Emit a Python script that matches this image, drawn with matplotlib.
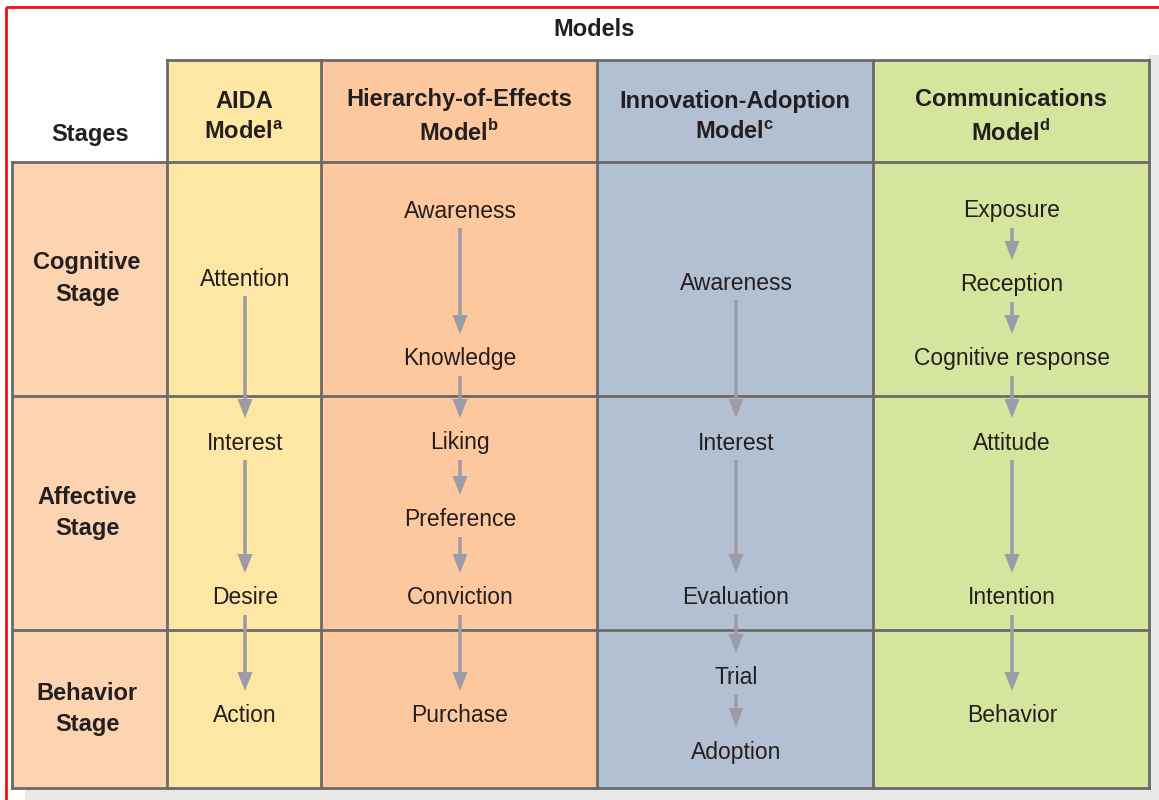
import matplotlib.pyplot as plt
from matplotlib.patches import Rectangle, FancyArrow

# table content
stages = ["Cognitive\nStage", "Affective\nStage", "Behavior\nStage"]
models = ["AIDA\nModel$^{\\mathrm{a}}$",
          "Hierarchy-of-Effects\nModel$^{\\mathrm{b}}$",
          "Innovation-Adoption\nModel$^{\\mathrm{c}}$",
          "Communications\nModel$^{\\mathrm{d}}$"]

aida = ["Attention", "Interest", "Desire", "Action"]
hierarchy = ["Awareness", "Knowledge", "Liking", "Preference", "Conviction", "Purchase"]
innovation = ["Awareness", "Interest", "Evaluation", "Trial", "Adoption"]
communications = ["Exposure", "Reception", "Cognitive response", "Attitude",
                  "Intention", "Behavior"]

# layout (pixels)
aida_y = [277, 441, 596, 714]
hierarchy_y = [209, 357, 441, 518, 596, 714]
innovation_y = [281, 441, 596, 676, 750]
communications_y = [209, 283, 357, 441, 596, 714]

col_edges = [12, 167, 321, 597, 873, 1149]
row_edges = [60, 162, 396, 630, 788]
col_colors = ["#fdd4b2", "#fee6a4", "#fdc89e", "#b3c0d2", "#d5e59d"]
line_c = "#6a6a6a"
arrow_c = "#9b9ca6"
txt_c = "#231f20"

W, H = 1159, 800
fig = plt.figure(figsize=(W / 100, H / 100), dpi=100)
ax = fig.add_axes([0, 0, 1, 1])
ax.set_xlim(0, W)
ax.set_ylim(H, 0)
ax.axis("off")

plt.rcParams["font.family"] = ["Liberation Sans", "DejaVu Sans"]
plt.rcParams["mathtext.fontset"] = "custom"
plt.rcParams["mathtext.rm"] = "Liberation Sans:bold"

# red frame + drop shadow
ax.add_patch(Rectangle((6, 7), 1200, 900, fill=False, ec="#ee1111", lw=2, zorder=1))
ax.add_patch(Rectangle((25, 788), 1135, 12, fc="#e8e8e8", ec="none", zorder=1))
ax.add_patch(Rectangle((1149, 55), 12, 745, fc="#e8e8e8", ec="none", zorder=1))

# cells
for i in range(5):
    x0, x1 = col_edges[i], col_edges[i + 1]
    top = row_edges[1] if i == 0 else row_edges[0]
    ax.add_patch(Rectangle((x0, top), x1 - x0, row_edges[-1] - top,
                           fc=col_colors[i], ec="none", zorder=2))
# grid lines
lw = 2.0
ax.plot([col_edges[1], col_edges[-1]], [row_edges[0]] * 2, color=line_c, lw=lw, zorder=3)
for y in row_edges[1:]:
    ax.plot([col_edges[0], col_edges[-1]], [y, y], color=line_c, lw=lw, zorder=3)
ax.plot([col_edges[0]] * 2, [row_edges[1], row_edges[-1]], color=line_c, lw=lw, zorder=3)
for x in col_edges[1:]:
    ax.plot([x, x], [row_edges[0], row_edges[-1]], color=line_c, lw=lw, zorder=3)

# headers
fs = 16.5
bfs = 17
ax.text(594, 29, "Models", ha="center", va="center", fontsize=bfs,
        fontweight="bold", color=txt_c)
ax.text(90, 135, "Stages", ha="center", va="center", fontsize=bfs,
        fontweight="bold", color=txt_c)
for i, m in enumerate(models):
    cx = (col_edges[i + 1] + col_edges[i + 2]) / 2
    ax.text(cx, 117, m, ha="center", va="center", fontsize=bfs,
            fontweight="bold", color=txt_c, linespacing=1.42)
for j, s in enumerate(stages):
    cy = (row_edges[j + 1] + row_edges[j + 2]) / 2
    ax.text(87, cy, s, ha="center", va="center", fontsize=bfs,
            fontweight="bold", color=txt_c, linespacing=1.5)

# column entries with arrows
columns = [(aida, aida_y), (hierarchy, hierarchy_y),
           (innovation, innovation_y), (communications, communications_y)]
for i, (labels, ys) in enumerate(columns):
    cx = (col_edges[i + 1] + col_edges[i + 2]) / 2 + 1
    for lab, y in zip(labels, ys):
        ax.text(cx, y + 2, lab, ha="center", va="center", fontsize=fs,
                color=txt_c, zorder=5)
    for y0, y1 in zip(ys[:-1], ys[1:]):
        start, end = y0 + 19, y1 - 23
        ax.add_patch(FancyArrow(cx, start, 0, end - start, width=3.5,
                                head_width=15, head_length=19,
                                length_includes_head=True, color=arrow_c,
                                lw=0, zorder=4))

fig.savefig("out.png", dpi=100)
